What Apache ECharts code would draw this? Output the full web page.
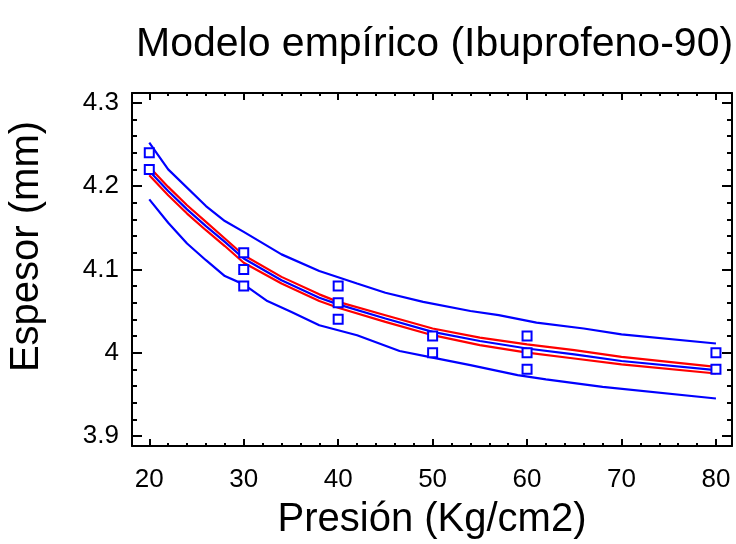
<!DOCTYPE html>
<html>
<head>
<meta charset="utf-8">
<script src="https://cdn.jsdelivr.net/npm/echarts@6/dist/echarts.min.js"></script>
<style>
html,body{margin:0;padding:0;background:#fff;}
#chart{width:736px;height:544px;}
</style>
</head>
<body>
<div id="chart"></div>
<script>
// Observed data (squares)
const pressureObs = [20, 20, 30, 30, 30, 40, 40, 40, 50, 50, 60, 60, 60, 80, 80];
const thicknessObs = [4.24, 4.22, 4.12, 4.10, 4.08, 4.08, 4.06, 4.04, 4.02, 4.00, 4.02, 4.00, 3.98, 4.00, 3.98];

// Fitted model (blue centre line)
const fitX = [20, 22, 24, 26, 28, 30, 34, 38, 40, 45, 50, 55, 60, 65, 70, 80];
const fitY = [4.218, 4.194, 4.172, 4.152, 4.133, 4.113, 4.087, 4.066, 4.058, 4.041, 4.025, 4.014, 4.005, 3.998, 3.990, 3.979];

// Confidence limits (red)
const confUpperY = [4.223, 4.199, 4.177, 4.157, 4.137, 4.117, 4.091, 4.070, 4.061, 4.045, 4.029, 4.018, 4.010, 4.003, 3.995, 3.983];
const confLowerY = [4.213, 4.189, 4.167, 4.147, 4.128, 4.108, 4.083, 4.062, 4.054, 4.037, 4.021, 4.009, 4.000, 3.993, 3.986, 3.975];

// Prediction limits (outer blue)
const predUpperX = [20, 22, 26, 28, 30, 34, 38, 42, 45, 49, 54, 57, 61, 66, 70, 80];
const predUpperY = [4.252, 4.220, 4.176, 4.158, 4.145, 4.118, 4.098, 4.083, 4.072, 4.061, 4.050, 4.045, 4.036, 4.029, 4.022, 4.011];
const predLowerX = [20, 22, 24, 26, 28, 30, 32.5, 35, 38, 42, 46.5, 50, 54, 59, 62, 68, 80];
const predLowerY = [4.184, 4.156, 4.131, 4.111, 4.092, 4.082, 4.062, 4.049, 4.033, 4.021, 4.002, 3.994, 3.985, 3.973, 3.968, 3.959, 3.945];

// Axis ticks
const xMajor = [20, 30, 40, 50, 60, 70, 80];
const xMinor = [22, 24, 26, 28, 32, 34, 36, 38, 42, 44, 46, 48, 52, 54, 56, 58, 62, 64, 66, 68, 72, 74, 76, 78];
const yMajor = [3.9, 4.0, 4.1, 4.2, 4.3];
const yMinor = [3.92, 3.94, 3.96, 3.98, 4.02, 4.04, 4.06, 4.08, 4.12, 4.14, 4.16, 4.18, 4.22, 4.24, 4.26, 4.28];
const yLabels = {3.9: '3.9', 4: '4', 4.1: '4.1', 4.2: '4.2', 4.3: '4.3'};

const X_MIN = 18.17, X_MAX = 81.7, Y_MIN = 3.888, Y_MAX = 4.3117;
const FONT = '"Liberation Sans", Arial, Helvetica, sans-serif';

function zip(xs, ys) { return xs.map((x, i) => [x, ys[i]]); }

function xAx(pos, ticks, len, showLine, showLabel, extra) {
  return Object.assign({
    type: 'value', position: pos, min: X_MIN, max: X_MAX,
    axisLine: { show: showLine, onZero: false, lineStyle: { color: '#000', width: 2 } },
    axisTick: { show: true, inside: true, length: len, customValues: ticks, lineStyle: { color: '#000', width: 2 } },
    axisLabel: showLabel ? { show: true, customValues: ticks, fontSize: 26, fontFamily: FONT, color: '#000', margin: 21 } : { show: false },
    splitLine: { show: false }
  }, extra || {});
}
function yAx(pos, ticks, len, showLine, showLabel, extra) {
  return Object.assign({
    type: 'value', position: pos, min: Y_MIN, max: Y_MAX,
    axisLine: { show: showLine, onZero: false, lineStyle: { color: '#000', width: 2 } },
    axisTick: { show: true, inside: true, length: len, customValues: ticks, lineStyle: { color: '#000', width: 2 } },
    axisLabel: showLabel ? { show: true, customValues: ticks, fontSize: 26, fontFamily: FONT, color: '#000', margin: 13,
      formatter: v => yLabels[Math.round(v * 10) / 10] || String(v) } : { show: false },
    splitLine: { show: false }
  }, extra || {});
}

const chart = echarts.init(document.getElementById('chart'), null, { renderer: 'canvas' });
chart.setOption({
  animation: false,
  backgroundColor: '#fff',
  title: {
    text: 'Modelo empírico (Ibuprofeno-90)',
    left: 131, top: 19,
    textStyle: { fontSize: 41, fontWeight: 'normal', fontFamily: FONT, color: '#000' }
  },
  grid: { left: 132, right: 4, top: 93, bottom: 98, containLabel: false, outerBoundsMode: 'none' },
  xAxis: [
    xAx('bottom', xMajor, 7, true, true, {
      name: 'Presión (Kg/cm2)', nameLocation: 'middle', nameGap: 54,
      nameTextStyle: { fontSize: 40, fontFamily: FONT, color: '#000' }
    }),
    xAx('bottom', xMinor, 3, false, false),
    xAx('top', xMajor, 7, true, false),
    xAx('top', xMinor, 3, false, false)
  ],
  yAxis: [
    yAx('left', yMajor, 10, true, true, {
      name: 'Espesor (mm)', nameLocation: 'middle', nameGap: 85,
      nameTextStyle: { fontSize: 40, fontFamily: FONT, color: '#000', padding: [0, 0, 0, 46] }
    }),
    yAx('left', yMinor, 5, false, false),
    yAx('right', yMajor, 10, true, false),
    yAx('right', yMinor, 5, false, false)
  ],
  series: [
    { type: 'line', data: zip(predUpperX, predUpperY), showSymbol: false, symbol: 'none', lineStyle: { color: '#0000ff', width: 2.2 }, z: 2 },
    { type: 'line', data: zip(predLowerX, predLowerY), showSymbol: false, symbol: 'none', lineStyle: { color: '#0000ff', width: 2.2 }, z: 2 },
    { type: 'line', data: zip(fitX, confUpperY), showSymbol: false, symbol: 'none', lineStyle: { color: '#ff0000', width: 2.2 }, z: 3 },
    { type: 'line', data: zip(fitX, confLowerY), showSymbol: false, symbol: 'none', lineStyle: { color: '#ff0000', width: 2.2 }, z: 3 },
    { type: 'line', data: zip(fitX, fitY), showSymbol: false, symbol: 'none', lineStyle: { color: '#0000ff', width: 2.2 }, z: 4 },
    { type: 'scatter', data: zip(pressureObs, thicknessObs), symbol: 'rect', symbolSize: 9,
      itemStyle: { color: '#ffffff', borderColor: '#0000ff', borderWidth: 2, opacity: 1 }, z: 5 }
  ]
});
</script>
</body>
</html>
